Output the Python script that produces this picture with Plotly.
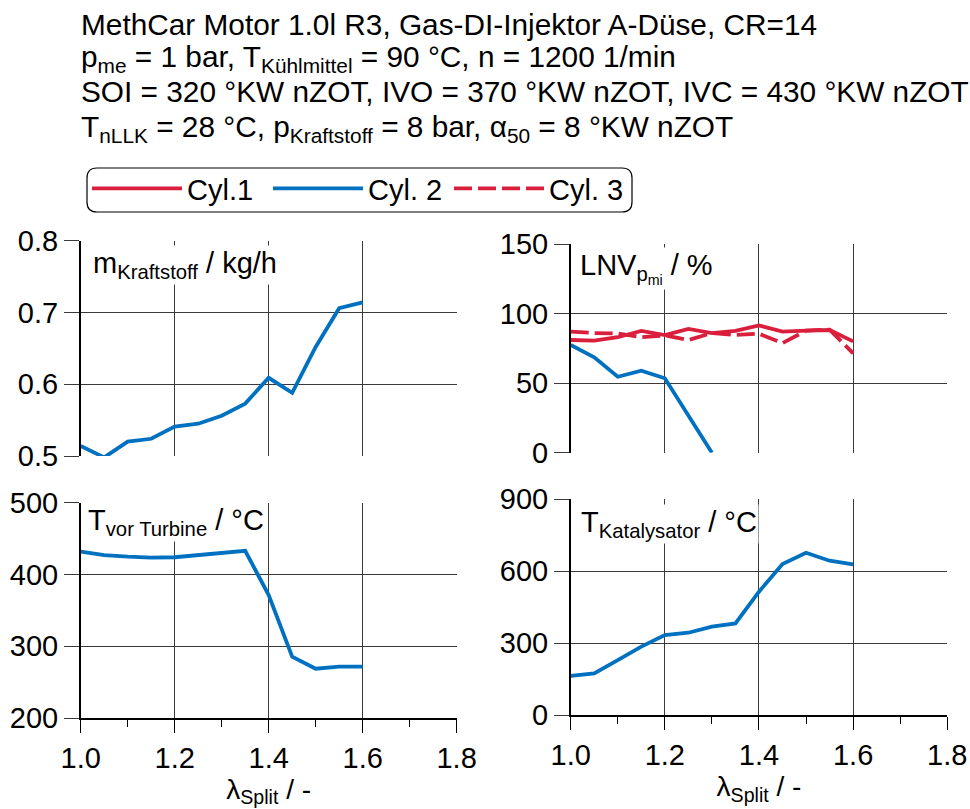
import plotly.graph_objects as go

# ---- data ----
lam = [1.0, 1.05, 1.1, 1.15, 1.2, 1.25, 1.3, 1.35, 1.4, 1.45, 1.5, 1.55, 1.6]
m_kraftstoff = [0.514, 0.498, 0.520, 0.524, 0.541, 0.545, 0.556, 0.573, 0.609, 0.588, 0.652, 0.706, 0.714]
lnv_cyl1 = [81, 80.5, 83, 87.5, 84.5, 89, 86, 87.5, 91.5, 87, 87.7, 88.2, 80]
lnv_cyl2 = [77.4, 68.6, 54.6, 58.9, 53.5, 27, 0]
lnv_cyl3 = [87, 86, 85.7, 83, 84.3, 81, 86, 84.6, 85.5, 78.8, 87.7, 88.5, 71.4]
t_turbine = [431.7, 427, 424.8, 423.4, 424, 427, 429.5, 433, 371.4, 285.4, 268.7, 271.5, 271.5]
t_kat = [164, 175, 230, 286, 334.6, 344, 369, 383, 515, 630, 677.6, 644, 629]

x_ticks = [1.0, 1.2, 1.4, 1.6, 1.8]
names = ["Cyl.1", "Cyl. 2", "Cyl. 3"]

RED = "#DA1F3D"
BLUE = "#0070C0"
FONT = "Liberation Sans, Arial, sans-serif"
LW = 3.8

fig = go.Figure()

# top-left
fig.add_trace(go.Scatter(x=lam, y=m_kraftstoff, mode="lines", line=dict(color=BLUE, width=LW),
                         xaxis="x", yaxis="y", showlegend=False, name=names[1]))
# top-right
fig.add_trace(go.Scatter(x=lam, y=lnv_cyl1, mode="lines", line=dict(color=RED, width=LW),
                         xaxis="x2", yaxis="y2", name=names[0], legendrank=1))
fig.add_trace(go.Scatter(x=lam[:len(lnv_cyl2)], y=lnv_cyl2, mode="lines", line=dict(color=BLUE, width=LW),
                         xaxis="x2", yaxis="y2", name=names[1], legendrank=2))
fig.add_trace(go.Scatter(x=lam, y=lnv_cyl3, mode="lines", line=dict(color=RED, width=LW, dash="18px,6px"),
                         xaxis="x2", yaxis="y2", name=names[2], legendrank=3))
# bottom-left
fig.add_trace(go.Scatter(x=lam, y=t_turbine, mode="lines", line=dict(color=BLUE, width=LW),
                         xaxis="x3", yaxis="y3", showlegend=False, name=names[1]))
# bottom-right
fig.add_trace(go.Scatter(x=lam, y=t_kat, mode="lines", line=dict(color=BLUE, width=LW),
                         xaxis="x4", yaxis="y4", showlegend=False, name=names[1]))

W, H = 970, 809
def px(x):
    return x / W
def py(y):
    return 1 - y / H

GRID = "#3a3a3a"
TICKF = dict(family=FONT, size=29, color="black")

def xax(domain, anchor, bottom):
    d = dict(domain=domain, anchor=anchor, range=[1.0, 1.8001], tickvals=x_ticks,
             showgrid=True, gridcolor=GRID, gridwidth=1, zeroline=False, automargin=False,
             showline=bottom, linecolor="black", linewidth=1.5)
    if bottom:
        d.update(ticks="outside", ticklen=13, tickcolor="black", tickwidth=1.2,
                 tickformat=".1f", tickfont=TICKF, showticklabels=True,
                 minor=dict(dtick=0.1, tick0=1.0, ticks="outside", ticklen=7, tickcolor="black", showgrid=False),
                 title=dict(text="λ<sub>Split</sub> / -", font=dict(family=FONT, size=28, color="black"), standoff=4))
    else:
        d.update(ticks="", showticklabels=False)
    return d

def yax(domain, anchor, rng, dtick, fmt):
    return dict(domain=domain, anchor=anchor, range=rng, dtick=dtick, tick0=rng[0], tickformat=fmt,
                showgrid=True, gridcolor=GRID, gridwidth=1, zeroline=False, automargin=False,
                showline=True, linecolor="black", linewidth=1.5,
                ticks="outside", ticklen=15, tickcolor=GRID, tickwidth=1.2, tickfont=TICKF)

xL = [px(80.7), px(456.7)]
xR = [px(570.7), px(947.3)]

fig.update_layout(
    width=W, height=H,
    margin=dict(l=0, r=0, t=0, b=0, pad=0, autoexpand=False),
    paper_bgcolor="white", plot_bgcolor="white",
    font=dict(family=FONT, color="black"),
    xaxis=xax(xL, "y", False),
    yaxis=yax([py(456), py(240.7)], "x", [0.5, 0.80001], 0.1, ".1f"),
    xaxis2=xax(xR, "y2", False),
    yaxis2=yax([py(452.7), py(244)], "x2", [0, 150.001], 50, "d"),
    xaxis3=xax(xL, "y3", True),
    yaxis3=yax([py(718), py(502.7)], "x3", [200, 500.001], 100, "d"),
    xaxis4=xax(xR, "y4", True),
    yaxis4=yax([py(715.3), py(499.3)], "x4", [0, 900.001], 300, "d"),
    legend=dict(orientation="h", x=px(87), y=py(163), xanchor="left", yanchor="top",
                font=dict(family=FONT, size=29, color="black"), bgcolor="rgba(0,0,0,0)",
                borderwidth=0, itemwidth=90, traceorder="normal",
                entrywidthmode="pixels", entrywidth=76),
    showlegend=True,
)

# rounded legend box
x0, x1, y0, y1 = px(87), px(632), py(168), py(212)
rx, ry = 10 / W, 10 / H
path = (f"M{x0+rx},{y0} L{x1-rx},{y0} Q{x1},{y0} {x1},{y0-ry} L{x1},{y1+ry} Q{x1},{y1} {x1-rx},{y1} "
        f"L{x0+rx},{y1} Q{x0},{y1} {x0},{y1+ry} L{x0},{y0-ry} Q{x0},{y0} {x0+rx},{y0} Z")
fig.add_shape(type="path", path=path, xref="paper", yref="paper", line=dict(color="black", width=1.2),
              fillcolor="rgba(0,0,0,0)")

# header text
header = [
    ("MethCar Motor 1.0l R3, Gas-DI-Injektor A-Düse, CR=14", 25),
    ("p<sub>me</sub> = 1 bar, T<sub>Kühlmittel</sub> = 90 °C, n = 1200 1/min", 59),
    ("SOI = 320 °KW nZOT, IVO = 370 °KW nZOT, IVC = 430 °KW nZOT", 91),
    ("T<sub>nLLK</sub> = 28 °C, p<sub>Kraftstoff</sub> = 8 bar, α<sub>50</sub> = 8 °KW nZOT", 129),
]
for txt, yc in header:
    fig.add_annotation(text=txt, xref="paper", yref="paper", x=px(79), y=py(yc),
                       xanchor="left", yanchor="middle", showarrow=False,
                       font=dict(family=FONT, size=29.8, color="black"))

# panel labels
labels = [
    ("m<sub>Kraftstoff</sub> / kg/h", 91, 265),
    ("LNV<sub>p<sub>mi</sub></sub> / %", 578, 268),
    ("T<sub>vor Turbine</sub> / °C", 86, 522),
    ("T<sub>Katalysator</sub> / °C", 579, 524),
]
for txt, xl, yc in labels:
    fig.add_annotation(text=txt, xref="paper", yref="paper", x=px(xl), y=py(yc),
                       xanchor="left", yanchor="middle", showarrow=False, bgcolor="white",
                       font=dict(family=FONT, size=29, color="black"))

fig.write_html("out.html")
